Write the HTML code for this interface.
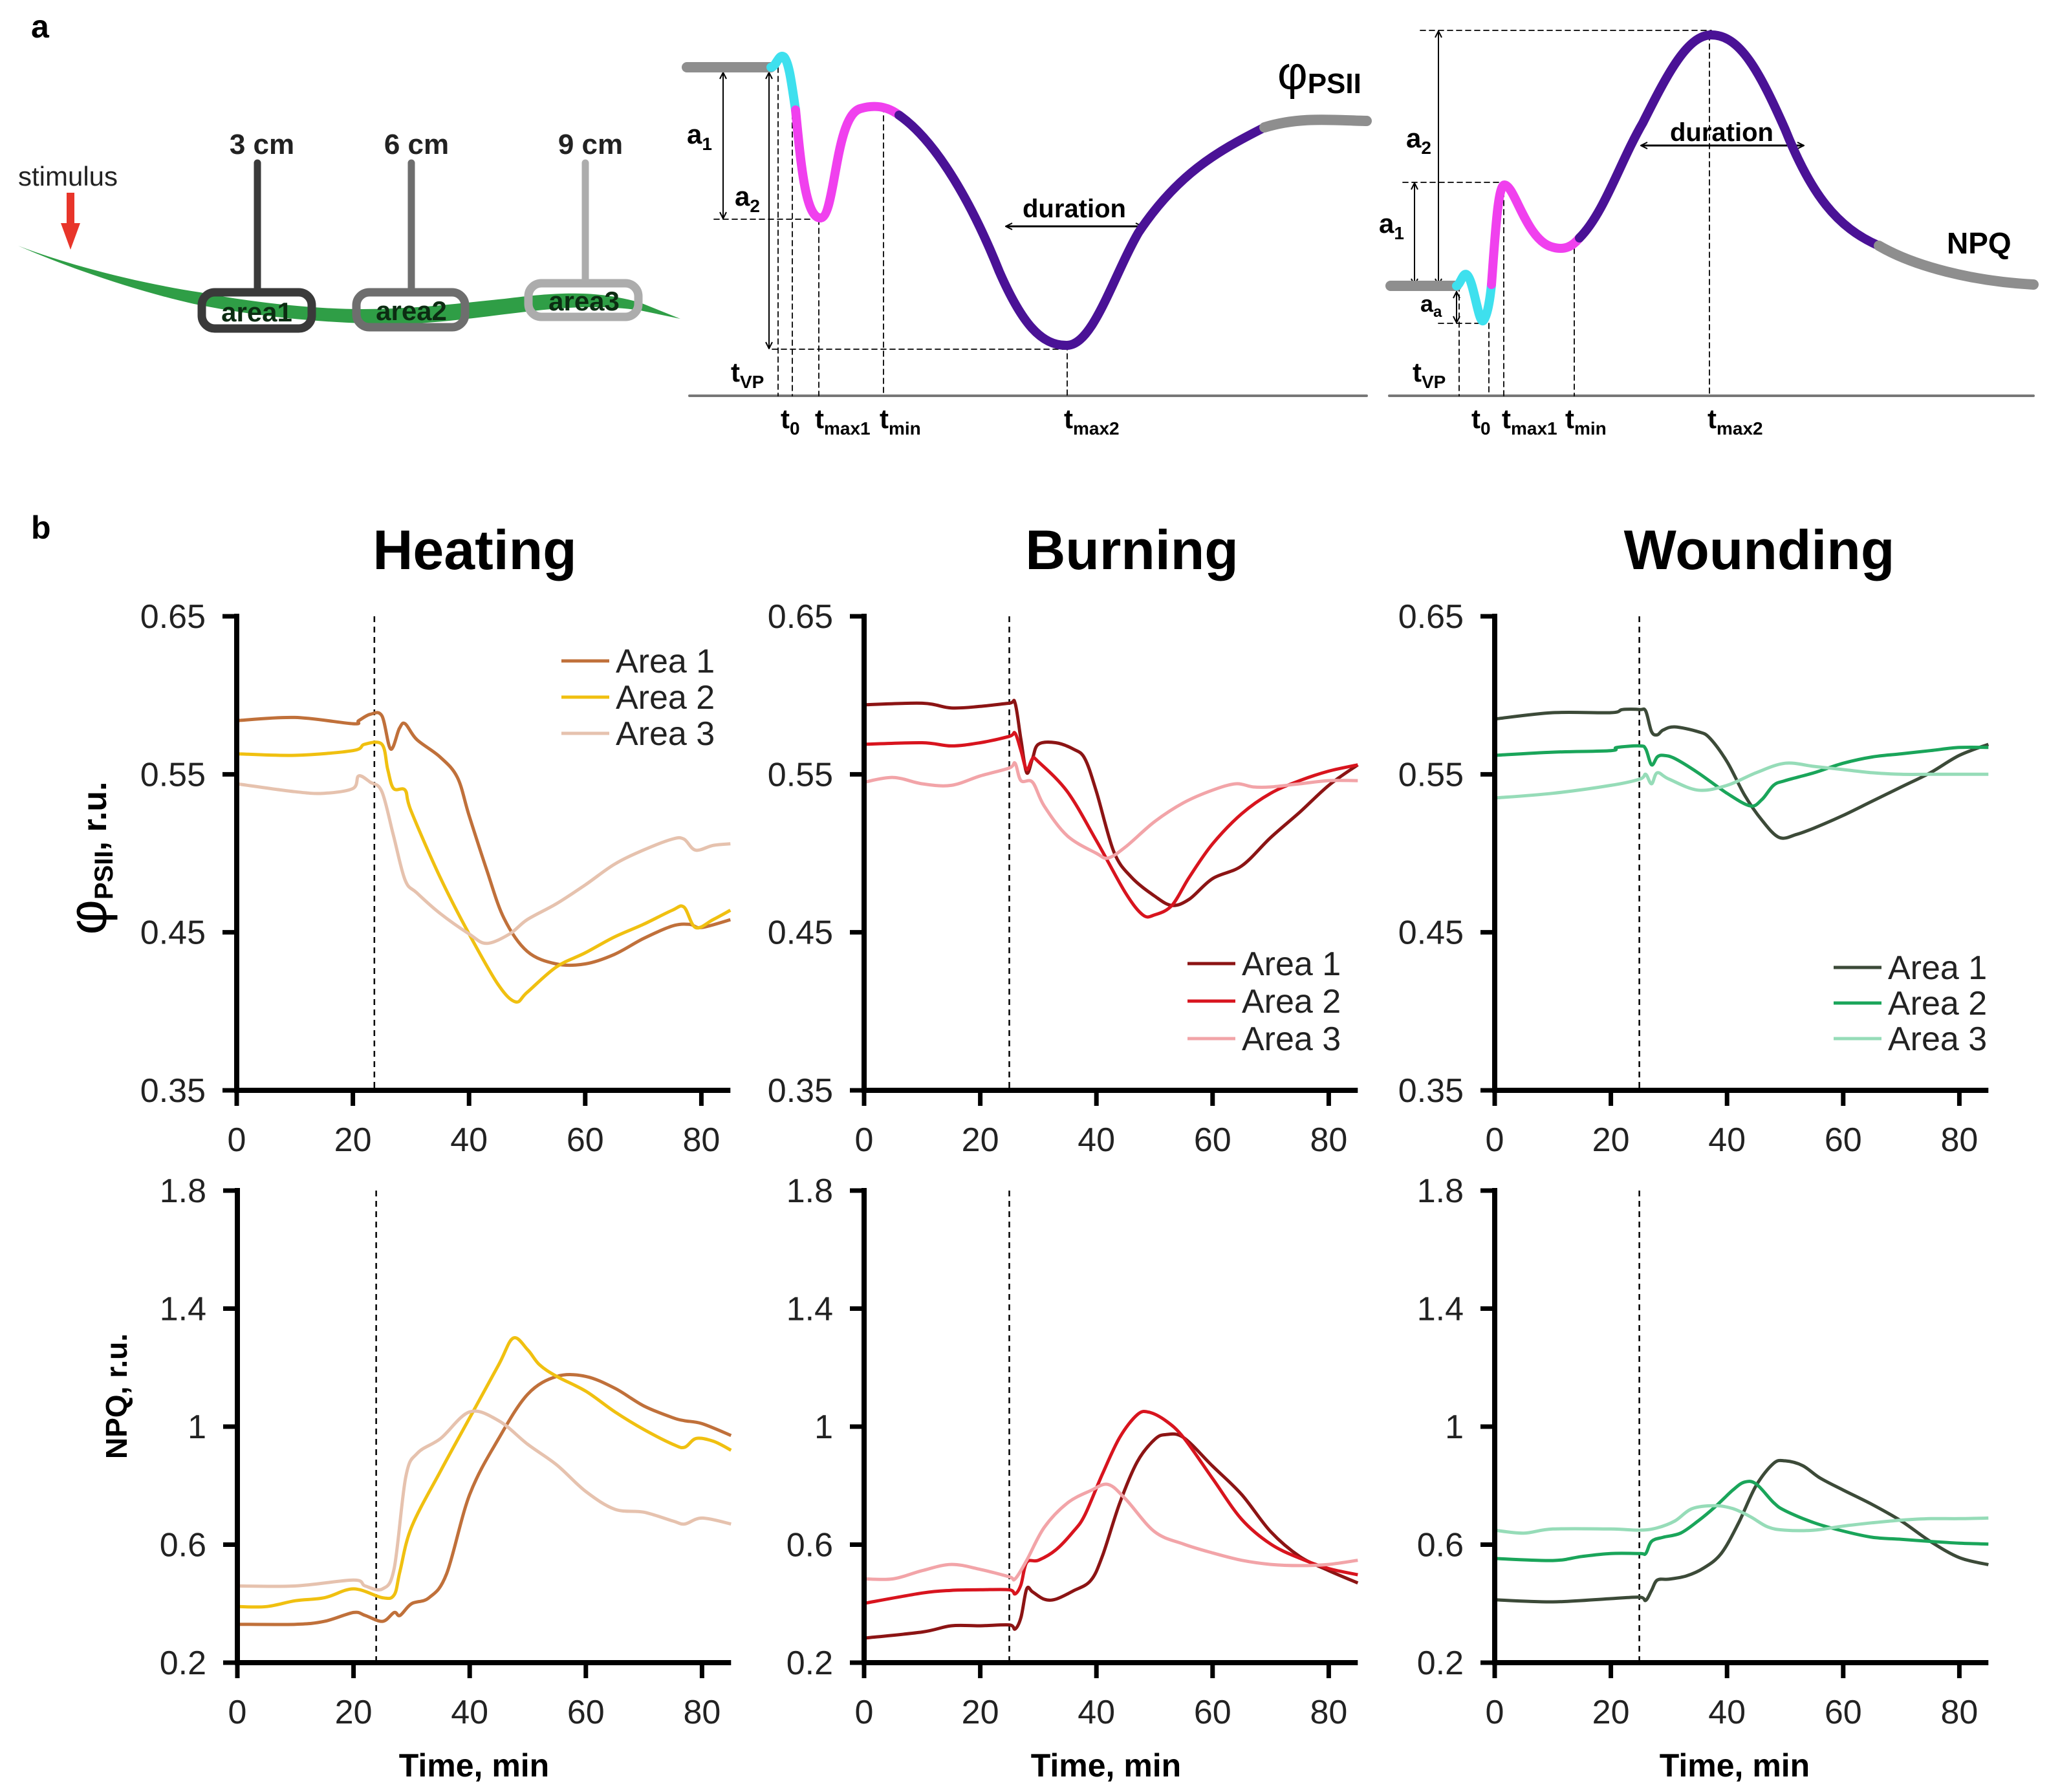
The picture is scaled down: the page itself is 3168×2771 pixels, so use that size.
<!DOCTYPE html>
<html><head><meta charset="utf-8"><style>
html,body{margin:0;padding:0;background:#fff;}
svg{display:block;}
text{font-family:"Liberation Sans",sans-serif;}
.nar{font-family:"Liberation Sans Narrow","Liberation Sans",sans-serif;font-weight:bold;}
</style></head><body>
<svg id="fig" width="3168" height="2771" viewBox="0 0 3168 2771" xmlns="http://www.w3.org/2000/svg">
<defs>
<marker id="arE" markerWidth="12" markerHeight="12" refX="10" refY="6" orient="auto" markerUnits="userSpaceOnUse"><path d="M1,1 L11,6 L1,11" fill="none" stroke="#000" stroke-width="2"/></marker>
<marker id="arS" markerWidth="12" markerHeight="12" refX="2" refY="6" orient="auto" markerUnits="userSpaceOnUse"><path d="M11,1 L1,6 L11,11" fill="none" stroke="#000" stroke-width="2"/></marker>
</defs>
<!-- panel a: leaf schematic -->
<g>
  <text x="48" y="58" font-size="50" font-weight="bold">a</text>
  <path d="M28,380 C120,415 230,440 309,452 C380,466 480,478 560,478 C640,478 700,470 780,462 C860,452 920,448 990,468 L1052,493 L990,480 C920,470 860,476 780,486 C700,496 640,504 560,500 C460,496 380,486 300,470 C220,452 120,420 28,380 Z" fill="#2f9e46"/>
  <text x="28" y="287" font-size="42" class="nar" style="font-weight:normal" fill="#222">stimulus</text>
  <rect x="103" y="298" width="12" height="50" fill="#e8352a"/>
  <polygon points="94,345 124,345 109,386" fill="#e8352a"/>
  <text x="405" y="238" font-size="44" class="nar" text-anchor="middle" fill="#222">3 cm</text>
  <text x="644" y="238" font-size="44" class="nar" text-anchor="middle" fill="#222">6 cm</text>
  <text x="913" y="238" font-size="44" class="nar" text-anchor="middle" fill="#222">9 cm</text>
  <line x1="398" y1="252" x2="398" y2="448" stroke="#3a3a3a" stroke-width="11" stroke-linecap="round"/>
  <line x1="636" y1="252" x2="636" y2="448" stroke="#6e6e6e" stroke-width="11" stroke-linecap="round"/>
  <line x1="905" y1="252" x2="905" y2="434" stroke="#acacac" stroke-width="11" stroke-linecap="round"/>
  <rect x="312" y="452" width="170" height="56" rx="20" fill="none" stroke="#3a3a3a" stroke-width="13"/>
  <rect x="551" y="452" width="168" height="54" rx="20" fill="none" stroke="#6e6e6e" stroke-width="13"/>
  <rect x="817" y="438" width="170" height="52" rx="20" fill="none" stroke="#acacac" stroke-width="13"/>
  <text x="397" y="497" font-size="42" class="nar" text-anchor="middle" fill="#0c2c12">area1</text>
  <text x="636" y="495" font-size="42" class="nar" text-anchor="middle" fill="#0c2c12">area2</text>
  <text x="903" y="480" font-size="42" class="nar" text-anchor="middle" fill="#0c2c12">area3</text>
</g>
<!-- panel a: PSII schematic -->
<g stroke-linecap="round" fill="none">
  <line x1="1066" y1="612" x2="2113" y2="612" stroke="#777" stroke-width="4"/>
  <g stroke="#000" stroke-width="1.8" stroke-dasharray="8,6">
    <line x1="1104" y1="339" x2="1270" y2="339"/><line x1="1194" y1="540" x2="1650" y2="540"/>
    <line x1="1203" y1="104" x2="1203" y2="612"/><line x1="1225" y1="120" x2="1225" y2="612"/>
    <line x1="1266" y1="339" x2="1266" y2="612"/><line x1="1366" y1="165" x2="1366" y2="612"/>
    <line x1="1650" y1="533" x2="1650" y2="612"/>
  </g>
  <line x1="1118" y1="113" x2="1118" y2="337" stroke="#000" stroke-width="2" marker-start="url(#arS)" marker-end="url(#arE)"/>
  <line x1="1189" y1="113" x2="1189" y2="538" stroke="#000" stroke-width="2" marker-start="url(#arS)" marker-end="url(#arE)"/>
  <line x1="1556" y1="350" x2="1765" y2="350" stroke="#000" stroke-width="3" marker-start="url(#arS)" marker-end="url(#arE)"/>
  <path d="M1062,104 L1192,104" stroke="#8e8e8e" stroke-width="16"/>
  <path d="M1192,104 C1200,104 1204,82 1212,88 C1220,96 1224,130 1230,170" stroke="#3ee0ee" stroke-width="14"/>
  <path d="M1230,170 C1238,250 1245,336 1268,337 C1292,338 1290,180 1330,168 C1350,162 1370,163 1390,178" stroke="#f040ee" stroke-width="14"/>
  <path d="M1390,178 C1450,220 1505,320 1545,420 C1580,500 1610,535 1650,534 C1690,533 1720,430 1760,360 C1820,270 1880,235 1955,197" stroke="#4a1296" stroke-width="14"/>
  <path d="M1955,197 C2010,180 2060,186 2113,187" stroke="#8e8e8e" stroke-width="16"/>
</g>
<g class="nar" font-size="42" fill="#000">
  <text x="1062" y="222">a<tspan font-size="28" dy="10">1</tspan></text>
  <text x="1136" y="318">a<tspan font-size="28" dy="10">2</tspan></text>
  <text x="1130" y="590">t<tspan font-size="28" dy="10">VP</tspan></text>
  <text x="1207" y="662">t<tspan font-size="28" dy="10">0</tspan></text>
  <text x="1260" y="662">t<tspan font-size="28" dy="10">max1</tspan></text>
  <text x="1360" y="662">t<tspan font-size="28" dy="10">min</tspan></text>
  <text x="1645" y="662">t<tspan font-size="28" dy="10">max2</tspan></text>
  <text x="1661" y="336" text-anchor="middle" font-size="40">duration</text>
  <text x="1975" y="138" font-size="72" style="font-weight:normal">φ<tspan font-size="44" font-weight="bold" dy="6">PSII</tspan></text>
</g>
<!-- panel a: NPQ schematic -->
<g stroke-linecap="round" fill="none">
  <line x1="2148" y1="612" x2="3144" y2="612" stroke="#777" stroke-width="4"/>
  <g stroke="#000" stroke-width="1.8" stroke-dasharray="8,6">
    <line x1="2196" y1="47" x2="2646" y2="47"/><line x1="2169" y1="282" x2="2325" y2="282"/>
    <line x1="2224" y1="500" x2="2293" y2="500"/>
    <line x1="2256" y1="442" x2="2256" y2="612"/><line x1="2302" y1="500" x2="2302" y2="612"/>
    <line x1="2325" y1="282" x2="2325" y2="612"/><line x1="2434" y1="384" x2="2434" y2="612"/>
    <line x1="2643" y1="54" x2="2643" y2="612"/>
  </g>
  <line x1="2224" y1="440" x2="2224" y2="49" stroke="#000" stroke-width="2" marker-start="url(#arS)" marker-end="url(#arE)"/>
  <line x1="2187" y1="440" x2="2187" y2="284" stroke="#000" stroke-width="2" marker-start="url(#arS)" marker-end="url(#arE)"/>
  <line x1="2252" y1="452" x2="2252" y2="498" stroke="#000" stroke-width="2" marker-start="url(#arS)" marker-end="url(#arE)"/>
  <line x1="2538" y1="225" x2="2788" y2="225" stroke="#000" stroke-width="3" marker-start="url(#arS)" marker-end="url(#arE)"/>
  <path d="M2150,442 L2252,442" stroke="#8e8e8e" stroke-width="16"/>
  <path d="M2252,442 C2258,440 2262,420 2268,425 C2278,432 2286,500 2293,496 C2298,494 2303,470 2306,440" stroke="#3ee0ee" stroke-width="14"/>
  <path d="M2306,440 C2312,360 2316,286 2326,286 C2342,286 2360,372 2400,382 C2420,388 2432,380 2442,368" stroke="#f040ee" stroke-width="14"/>
  <path d="M2442,368 C2480,330 2505,250 2540,190 C2580,110 2610,54 2646,54 C2690,54 2720,110 2760,200 C2800,300 2840,352 2905,380" stroke="#4a1296" stroke-width="14"/>
  <path d="M2905,380 C2960,412 3050,435 3144,440" stroke="#8e8e8e" stroke-width="16"/>
</g>
<g class="nar" font-size="42" fill="#000">
  <text x="2174" y="228">a<tspan font-size="28" dy="10">2</tspan></text>
  <text x="2132" y="360">a<tspan font-size="28" dy="10">1</tspan></text>
  <text x="2196" y="482" font-size="36">a<tspan font-size="24" dy="8">a</tspan></text>
  <text x="2184" y="590">t<tspan font-size="28" dy="10">VP</tspan></text>
  <text x="2275" y="662">t<tspan font-size="28" dy="10">0</tspan></text>
  <text x="2322" y="662">t<tspan font-size="28" dy="10">max1</tspan></text>
  <text x="2420" y="662">t<tspan font-size="28" dy="10">min</tspan></text>
  <text x="2640" y="662">t<tspan font-size="28" dy="10">max2</tspan></text>
  <text x="2662" y="218" text-anchor="middle" font-size="40">duration</text>
  <text x="3010" y="392" font-size="46">NPQ</text>
</g>
<!-- panel b static text -->
<text x="48" y="833" font-size="50" font-weight="bold">b</text>
<text x="734" y="880" font-size="86" font-weight="bold" text-anchor="middle">Heating</text>
<text x="1750" y="880" font-size="86" font-weight="bold" text-anchor="middle">Burning</text>
<text x="2720" y="880" font-size="86" font-weight="bold" text-anchor="middle">Wounding</text>
<text transform="translate(164,1327) rotate(-90)" text-anchor="middle" font-size="52" font-weight="bold"><tspan font-size="84" font-weight="normal">φ</tspan><tspan font-size="40" dy="10">PSII</tspan><tspan dy="-10">, r.u.</tspan></text>
<text transform="translate(196,2159) rotate(-90)" text-anchor="middle" font-size="46" font-weight="bold">NPQ, r.u.</text>
<text x="733" y="2747" font-size="50" font-weight="bold" text-anchor="middle">Time, min</text>
<text x="1710" y="2747" font-size="50" font-weight="bold" text-anchor="middle">Time, min</text>
<text x="2682" y="2747" font-size="50" font-weight="bold" text-anchor="middle">Time, min</text>
<g id="charts"></g>
</svg>
<script>
// ---- tick data ----
const xTicks = [0, 20, 40, 60, 80];
const xTickLabels = ["0", "20", "40", "60", "80"];
const psiTicks = [0.35, 0.45, 0.55, 0.65];
const psiTickLabels = ["0.35", "0.45", "0.55", "0.65"];
const npqTicks = [0.2, 0.6, 1.0, 1.4, 1.8];
const npqTickLabels = ["0.2", "0.6", "1", "1.4", "1.8"];
const seriesNames = ["Area 1", "Area 2", "Area 3"];

// ---- Heating, phi PSII ----
const heatPsiT1 = [0,10,20,21,23,25,26.5,28,29,31,35,38,40,43,46,50,55,60,65,70,75,78,80,85];
const heatPsiV1 = [0.584,0.586,0.582,0.584,0.588,0.587,0.566,0.579,0.582,0.572,0.561,0.548,0.524,0.490,0.459,0.438,0.430,0.430,0.436,0.446,0.454,0.455,0.453,0.458];
const heatPsiT2 = [0,10,20,22,25,26,27,29,30,35,40,45,48,50,55,60,65,70,75,77,79,82,85];
const heatPsiV2 = [0.563,0.562,0.565,0.569,0.569,0.553,0.541,0.540,0.527,0.485,0.449,0.417,0.406,0.412,0.428,0.437,0.447,0.455,0.464,0.466,0.453,0.458,0.464];
const heatPsiT3 = [0,10,15,20,21,23,25,27,29,31,35,40,43,47,50,55,60,65,70,75,77,79,82,85];
const heatPsiV3 = [0.544,0.539,0.538,0.541,0.549,0.545,0.539,0.511,0.483,0.475,0.462,0.449,0.443,0.449,0.458,0.468,0.480,0.493,0.502,0.509,0.509,0.502,0.505,0.506];
// ---- Heating, NPQ ----
const heatNpqT1 = [0,10,15,20,22,25,27,28,30,33,36,40,45,50,55,60,65,70,75,77,80,85];
const heatNpqV1 = [0.33,0.33,0.34,0.37,0.36,0.34,0.37,0.36,0.40,0.42,0.50,0.77,0.96,1.11,1.17,1.17,1.13,1.07,1.03,1.02,1.01,0.97];
const heatNpqT2 = [0,5,10,15,20,25,27,28,30,35,40,45,47.5,50,52,55,60,65,70,75,77,79,82,85];
const heatNpqV2 = [0.39,0.39,0.41,0.42,0.45,0.42,0.43,0.51,0.66,0.85,1.03,1.21,1.30,1.26,1.21,1.17,1.12,1.05,0.99,0.94,0.93,0.96,0.95,0.92];
const heatNpqT3 = [0,10,20,22,25,27,29,31,35,40,45,50,55,60,65,70,75,77,80,85];
const heatNpqV3 = [0.46,0.46,0.48,0.46,0.45,0.52,0.83,0.91,0.96,1.05,1.02,0.94,0.87,0.78,0.72,0.71,0.68,0.67,0.69,0.67];

// ---- Burning, phi PSII ----
const burnPsiT1 = [0,10,15,20,25,26,27,28,29,30,33,36,38,40,43,46,50,53,56,60,65,70,75,80,85];
const burnPsiV1 = [0.594,0.595,0.592,0.593,0.595,0.595,0.572,0.551,0.560,0.569,0.570,0.566,0.560,0.539,0.501,0.485,0.473,0.467,0.471,0.484,0.492,0.510,0.526,0.543,0.556];
const burnPsiT2 = [0,10,15,20,25,26,27,28,29,30,35,40,45,48,50,53,56,60,65,70,75,80,85];
const burnPsiV2 = [0.569,0.570,0.568,0.570,0.574,0.576,0.565,0.553,0.560,0.558,0.539,0.508,0.475,0.461,0.461,0.467,0.485,0.506,0.525,0.538,0.546,0.552,0.556];
const burnPsiT3 = [0,5,10,15,20,25,26,27,29,31,35,40,42,45,50,55,60,64,67,70,75,80,85];
const burnPsiV3 = [0.545,0.548,0.544,0.543,0.549,0.554,0.557,0.546,0.545,0.530,0.511,0.500,0.497,0.504,0.520,0.532,0.540,0.544,0.542,0.542,0.544,0.546,0.546];
// ---- Burning, NPQ ----
const burnNpqT1 = [0,10,15,20,25,26,27,28,29,31,33,36,39,41,44,47,50,52,55,60,65,70,75,80,85];
const burnNpqV1 = [0.283,0.304,0.325,0.325,0.328,0.314,0.353,0.45,0.44,0.415,0.415,0.443,0.478,0.56,0.74,0.88,0.956,0.973,0.963,0.866,0.77,0.644,0.56,0.512,0.47];
const burnNpqT2 = [0,10,15,20,25,26,27,28,30,33,36,38,41,44,47,49,52,55,60,65,70,75,80,85];
const burnNpqV2 = [0.401,0.436,0.445,0.447,0.447,0.433,0.464,0.54,0.547,0.582,0.644,0.70,0.838,0.963,1.04,1.049,1.019,0.963,0.824,0.686,0.602,0.554,0.519,0.498];
const burnNpqT3 = [0,5,10,15,20,25,26,28,31,35,39,42,45,50,55,60,65,70,75,80,85];
const burnNpqV3 = [0.484,0.484,0.512,0.533,0.516,0.491,0.484,0.547,0.658,0.741,0.783,0.804,0.755,0.644,0.602,0.572,0.547,0.533,0.529,0.533,0.547];

// ---- Wounding, phi PSII ----
const woundPsiT1 = [0,10,20,22,25,26,27,28,29,31,35,37,40,43,46,49,52,55,60,65,70,75,80,85];
const woundPsiV1 = [0.585,0.589,0.589,0.591,0.591,0.590,0.577,0.575,0.578,0.580,0.577,0.573,0.558,0.537,0.521,0.510,0.512,0.516,0.524,0.533,0.542,0.551,0.562,0.569];
const woundPsiT2 = [0,10,20,21,25,26,27,28,29,31,35,40,44,46,48,50,55,60,65,70,75,80,85];
const woundPsiV2 = [0.562,0.564,0.565,0.567,0.568,0.566,0.556,0.561,0.562,0.560,0.551,0.538,0.530,0.534,0.543,0.546,0.551,0.557,0.561,0.563,0.565,0.567,0.567];
const woundPsiT3 = [0,10,20,25,26,27,28,30,35,40,45,50,55,60,65,70,75,80,85];
const woundPsiV3 = [0.535,0.538,0.543,0.547,0.550,0.544,0.551,0.547,0.540,0.543,0.551,0.557,0.555,0.553,0.551,0.550,0.550,0.550,0.550];
// ---- Wounding, NPQ ----
const woundNpqT1 = [0,10,20,25,26,27,28,30,33,36,39,42,45,48,50,53,56,60,65,70,75,80,85];
const woundNpqV1 = [0.413,0.406,0.417,0.422,0.411,0.445,0.48,0.483,0.494,0.521,0.57,0.674,0.80,0.875,0.884,0.868,0.826,0.785,0.736,0.68,0.611,0.556,0.532];
const woundNpqT2 = [0,10,15,20,25,26,27,29,32,35,38,41,43,45,48,50,55,60,65,70,75,80,85];
const woundNpqV2 = [0.553,0.546,0.56,0.57,0.57,0.57,0.611,0.625,0.639,0.68,0.729,0.785,0.812,0.806,0.743,0.715,0.674,0.646,0.625,0.618,0.611,0.605,0.602];
const woundNpqT3 = [0,5,10,20,25,28,31,34,38,41,44,47,50,55,60,65,70,75,80,85];
const woundNpqV3 = [0.649,0.639,0.653,0.653,0.649,0.657,0.68,0.722,0.732,0.722,0.695,0.66,0.649,0.649,0.663,0.674,0.683,0.688,0.688,0.69];

const NS = "http://www.w3.org/2000/svg";
const root = document.getElementById("charts");
function mk(tag, attrs, parent) {
  const e = document.createElementNS(NS, tag);
  for (const k in attrs) e.setAttribute(k, attrs[k]);
  (parent || root).appendChild(e);
  return e;
}
function smoothPath(pts) {
  let d = "M" + pts[0][0].toFixed(1) + "," + pts[0][1].toFixed(1);
  for (let i = 0; i < pts.length - 1; i++) {
    const p0 = pts[Math.max(0, i - 1)], p1 = pts[i], p2 = pts[i + 1], p3 = pts[Math.min(pts.length - 1, i + 2)];
    const c1x = p1[0] + (p2[0] - p0[0]) / 6, c1y = p1[1] + (p2[1] - p0[1]) / 6;
    const c2x = p2[0] - (p3[0] - p1[0]) / 6, c2y = p2[1] - (p3[1] - p1[1]) / 6;
    d += " C" + c1x.toFixed(1) + "," + c1y.toFixed(1) + " " + c2x.toFixed(1) + "," + c2y.toFixed(1) + " " + p2[0].toFixed(1) + "," + p2[1].toFixed(1);
  }
  return d;
}

function panel(cfg) {
  const g = mk("g", {});
  
  
  const pxPerMin = 8.98;
  const xs = t => cfg.x0 + t * pxPerMin;
  const ys = v => cfg.yBot - (v - cfg.vMin) / (cfg.vMax - cfg.vMin) * (cfg.yBot - cfg.yTop);
  const xEnd = xs(85);
  const dl = mk("line", {x1: xs(cfg.stim), x2: xs(cfg.stim), y1: cfg.yTop, y2: cfg.yBot, stroke: "#000", "stroke-width": 2.5, "stroke-dasharray": "9,7"}, g);
  
  
  cfg.series.forEach((s, i) => {
    const pts = s.t.map((t, j) => [xs(t), ys(s.v[j])]);
    const p = mk("path", {d: smoothPath(pts), fill: "none", stroke: s.color, "stroke-width": 5, "stroke-linejoin": "round"}, g);
    
    
  });
  const ya = mk("line", {x1: cfg.x0, x2: cfg.x0, y1: cfg.yTop - 4, y2: cfg.yBot + 4, stroke: "#000", "stroke-width": 8}, g);
  
  
  const xa = mk("line", {x1: cfg.x0 - 4, x2: xEnd, y1: cfg.yBot, y2: cfg.yBot, stroke: "#000", "stroke-width": 8}, g);
  
  
  cfg.yTicks.forEach((v, i) => {
    const y = ys(v);
    const tk = mk("line", {x1: cfg.x0 - 22, x2: cfg.x0, y1: y, y2: y, stroke: "#000", "stroke-width": 7}, g);
    
    
    const tl = mk("text", {x: cfg.x0 - 48, y: y + 18, "font-size": 52, "text-anchor": "end", fill: "#222"}, g);
    tl.textContent = cfg.yLabels[i];
    
    
  });
  xTicks.forEach((t, i) => {
    const x = xs(t);
    const tk = mk("line", {x1: x, x2: x, y1: cfg.yBot, y2: cfg.yBot + 24, stroke: "#000", "stroke-width": 7}, g);
    
    
    const tl = mk("text", {x: x, y: cfg.yBot + 94, "font-size": 52, "text-anchor": "middle", fill: "#222"}, g);
    tl.textContent = xTickLabels[i];
    
    
  });
  if (cfg.legend) {
    const lg = mk("g", {}, g);
    
    
    cfg.series.forEach((s, i) => {
      const y = cfg.legend.y + i * cfg.legend.dy;
      const ln = mk("line", {x1: cfg.legend.x, x2: cfg.legend.x + 74, y1: y, y2: y, stroke: s.color, "stroke-width": 5}, lg);
      
      
      const tx = mk("text", {x: cfg.legend.x + 84, y: y + 18, "font-size": 52, fill: "#222"}, lg);
      tx.textContent = seriesNames[i];
      
      
    });
  }
}

const heatC = ["#c0703a", "#f0c010", "#e6c2ae"];
const burnC = ["#8c1414", "#d8141e", "#f2a4a8"];
const woundC = ["#3c4a38", "#1aa55a", "#96dcb8"];
const topRow = {yTop: 953, yBot: 1686, vMin: 0.35, vMax: 0.65, yTicks: psiTicks, yLabels: psiTickLabels};
const botRow = {yTop: 1841, yBot: 2571, vMin: 0.2, vMax: 1.8, yTicks: npqTicks, yLabels: npqTickLabels};

panel(Object.assign({}, topRow, {name: "chart-heating-psii", x0: 366, stim: 23.7,
  series: [{t: heatPsiT1, v: heatPsiV1, color: heatC[0]}, {t: heatPsiT2, v: heatPsiV2, color: heatC[1]}, {t: heatPsiT3, v: heatPsiV3, color: heatC[2]}],
  legend: {x: 868, y: 1022, dy: 56}}));
panel(Object.assign({}, topRow, {name: "chart-burning-psii", x0: 1336, stim: 25,
  series: [{t: burnPsiT1, v: burnPsiV1, color: burnC[0]}, {t: burnPsiT2, v: burnPsiV2, color: burnC[1]}, {t: burnPsiT3, v: burnPsiV3, color: burnC[2]}],
  legend: {x: 1836, y: 1490, dy: 58}}));
panel(Object.assign({}, topRow, {name: "chart-wounding-psii", x0: 2311, stim: 24.9,
  series: [{t: woundPsiT1, v: woundPsiV1, color: woundC[0]}, {t: woundPsiT2, v: woundPsiV2, color: woundC[1]}, {t: woundPsiT3, v: woundPsiV3, color: woundC[2]}],
  legend: {x: 2835, y: 1496, dy: 55}}));
panel(Object.assign({}, botRow, {name: "chart-heating-npq", x0: 367, stim: 23.9,
  series: [{t: heatNpqT1, v: heatNpqV1, color: heatC[0]}, {t: heatNpqT2, v: heatNpqV2, color: heatC[1]}, {t: heatNpqT3, v: heatNpqV3, color: heatC[2]}]}));
panel(Object.assign({}, botRow, {name: "chart-burning-npq", x0: 1336, stim: 25,
  series: [{t: burnNpqT1, v: burnNpqV1, color: burnC[0]}, {t: burnNpqT2, v: burnNpqV2, color: burnC[1]}, {t: burnNpqT3, v: burnNpqV3, color: burnC[2]}]}));
panel(Object.assign({}, botRow, {name: "chart-wounding-npq", x0: 2311, stim: 24.9,
  series: [{t: woundNpqT1, v: woundNpqV1, color: woundC[0]}, {t: woundNpqT2, v: woundNpqV2, color: woundC[1]}, {t: woundNpqT3, v: woundNpqV3, color: woundC[2]}]}));
</script>
</body></html>
